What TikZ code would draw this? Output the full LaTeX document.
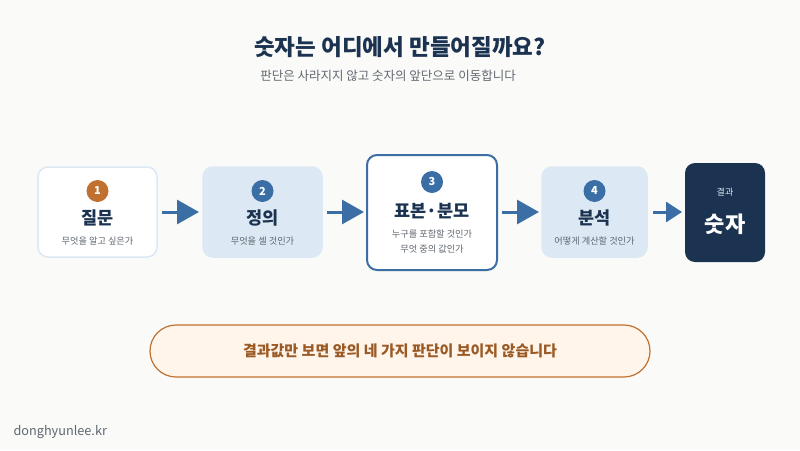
\documentclass[tikz,border=0pt]{standalone}
\usepackage{fontspec}
\setmainfont{Noto Sans CJK KR}
\usetikzlibrary{arrows.meta}
\definecolor{bg}{HTML}{FAFAF8}
\definecolor{navy}{HTML}{1B3350}
\definecolor{blu}{HTML}{3A6EA5}
\definecolor{lite}{HTML}{DCE8F3}
\definecolor{orng}{HTML}{C0702F}
\definecolor{gry}{HTML}{606870}
\begin{document}
\begin{tikzpicture}[x=1pt,y=-1pt,
 box/.style={rounded corners=10pt,line width=1.5pt},
 num/.style={circle,fill=blu,text=white,inner sep=0pt,minimum size=22pt,font=\bfseries\fontsize{11}{11}\selectfont},
 ttl/.style={text=navy,font=\bfseries\fontsize{17.5}{17.5}\selectfont},
 sub/.style={text=gry,font=\fontsize{9.2}{9.2}\selectfont,align=center},
 arr/.style={blu,line width=3pt,-{Triangle[length=22pt,width=24pt]}}]
\useasboundingbox[fill=bg] (0,0) rectangle (800,450);
\node[text=navy,font=\bfseries\fontsize{22.5}{22.5}\selectfont] (t) at (400,47) {숫자는 어디에서 만들어질까요?};
\node[text=gry,font=\fontsize{12.5}{12.5}\selectfont] (s) at (388,76) {판단은 사라지지 않고 숫자의 앞단으로 이동합니다};
% boxes
\draw[box,draw=lite,fill=white] (38,167) rectangle (157,257);
\node (b1) at (97.5,212) {};
\draw[box,draw=lite,fill=lite] (203,167) rectangle (322,257);
\node (b2) at (262.5,212) {};
\draw[box,draw=blu,line width=2pt,fill=white] (367,155) rectangle (497,270);
\node (b3) at (432,212) {};
\draw[box,draw=lite,fill=lite] (542,167) rectangle (647,257);
\node (b4) at (594.5,212) {};
\fill[navy,rounded corners=10pt] (685,163) rectangle (765,262);
\node (b5) at (725,212) {};
% contents
\node[num,fill=orng] (n1) at (97.5,191) {1};
\node[ttl] (l1) at (97.5,218) {질문};
\node[sub] (d1) at (97.5,241) {무엇을 알고 싶은가};
\node[num] (n2) at (262.5,191) {2};
\node[ttl] (l2) at (262.5,218) {정의};
\node[sub] (d2) at (262.5,241) {무엇을 셀 것인가};
\node[num] (n3) at (432,182) {3};
\node[ttl] (l3) at (432,211) {표본·분모};
\node[sub] (d3) at (432,234) {누구를 포함할 것인가};
\node[sub] (d3b) at (432,249) {무엇 중의 값인가};
\node[num] (n4) at (594.5,191) {4};
\node[ttl] (l4) at (594.5,218) {분석};
\node[sub] (d4) at (594.5,241) {어떻게 계산할 것인가};
\node[text=lite,font=\fontsize{9}{9}\selectfont] (r1) at (725,192) {결과};
\node[text=white,font=\bfseries\fontsize{22}{22}\selectfont] (r2) at (725,224) {숫자};
% arrows
\coordinate (a1s) at (162,212); \coordinate (a1e) at (199,212);
\coordinate (a2s) at (327,212); \coordinate (a2e) at (364,212);
\coordinate (a3s) at (502,212); \coordinate (a3e) at (539,212);
\coordinate (a4s) at (653,212); \coordinate (a4e) at (682,212);
\draw[arr] (a1s) -- (a1e);
\draw[arr] (a2s) -- (a2e);
\draw[arr] (a3s) -- (a3e);
\draw[arr,-{Triangle[length=16pt,width=20pt]}] (a4s) -- (a4e);
% pill
\node[draw=orng,line width=1.2pt,fill=orange!8,rounded corners=26pt,minimum width=500pt,minimum height=52pt,text=orng!80!black,font=\bfseries\fontsize{15}{15}\selectfont] (p) at (400,351) {결과값만 보면 앞의 네 가지 판단이 보이지 않습니다};
\node[anchor=west,text=gry,font=\fontsize{12.7}{12.7}\selectfont] (f) at (10,432) {donghyunlee.kr};
\end{tikzpicture}
\end{document}
